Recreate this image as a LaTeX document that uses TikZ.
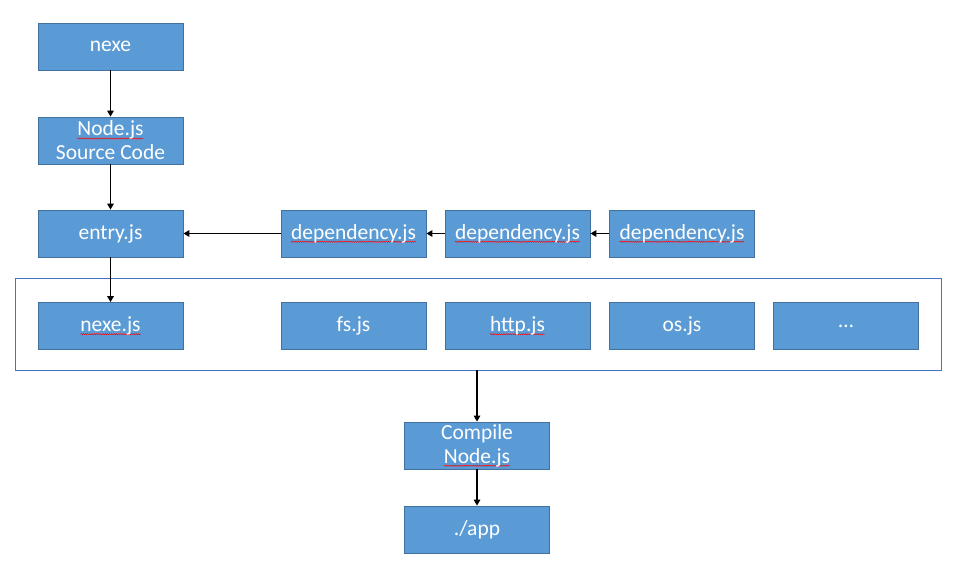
\documentclass[tikz,border=0pt]{standalone}
\usepackage{fontspec}
\setmainfont{Carlito}
\usetikzlibrary{arrows.meta,decorations.pathmorphing}
\definecolor{boxfill}{HTML}{5B9BD5}
\definecolor{boxline}{HTML}{41719C}
\definecolor{contline}{HTML}{4472C4}
\newdimen\sqwidth
\newcommand\sqword[1]{\setbox0\hbox{#1}\sqwidth=\wd0\leavevmode\tikz[overlay,baseline=0pt]\draw[red,line width=0.45pt,decorate,decoration={snake,amplitude=0.6pt,segment length=2.2pt}](0pt,-2.6pt)--(\sqwidth,-2.6pt);#1}
\begin{document}
\begin{tikzpicture}[x=1pt,y=-1pt,
  box/.style={draw=boxline,fill=boxfill,line width=0.8pt,minimum width=145pt,minimum height=47pt,inner sep=0pt,text=white,align=center,font=\fontsize{21.5}{24}\selectfont},
  arr/.style={draw=black,line width=1.5pt,-{Triangle[length=6pt,width=6.5pt]}}]
\useasboundingbox (0,0) rectangle (957,568);
\node[box] (nexe) at (110.5,46.5) {nexe};
\node[box] (src) at (110.5,140.5) {\sqword{Node.js}\\Source Code};
\node[box] (entry) at (110.5,233.5) {entry.js};
\node[box] (dep1) at (353.5,233.5) {\sqword{dependency.js}};
\node[box] (dep2) at (517.5,233.5) {\sqword{dependency.js}};
\node[box] (dep3) at (682,233.5) {\sqword{dependency.js}};
\node[draw=contline,line width=0.8pt,minimum width=926pt,minimum height=92pt,inner sep=0pt] (cont) at (478,324) {};
\node[box] (nexejs) at (110.5,326) {\sqword{nexe.js}};
\node[box] (fs) at (353.5,326) {fs.js};
\node[box] (http) at (517.5,326) {\sqword{http.js}};
\node[box] (os) at (682,326) {os.js};
\node[box] (more) at (846,326) {…};
\node[box] (compile) at (477,445.5) {Compile\\\sqword{Node.js}};
\node[box] (app) at (477,529.5) {./app};
\draw[arr] (nexe) -- (src);
\draw[arr] (src) -- (entry);
\draw[arr] (dep1) -- (entry);
\draw[arr] (dep2) -- (dep1);
\draw[arr] (dep3) -- (dep2);
\draw[arr] (entry) -- (nexejs);
\draw[arr] (cont.south -| compile.north) -- (compile.north);
\draw[arr] (compile) -- (app);
\end{tikzpicture}
\end{document}
